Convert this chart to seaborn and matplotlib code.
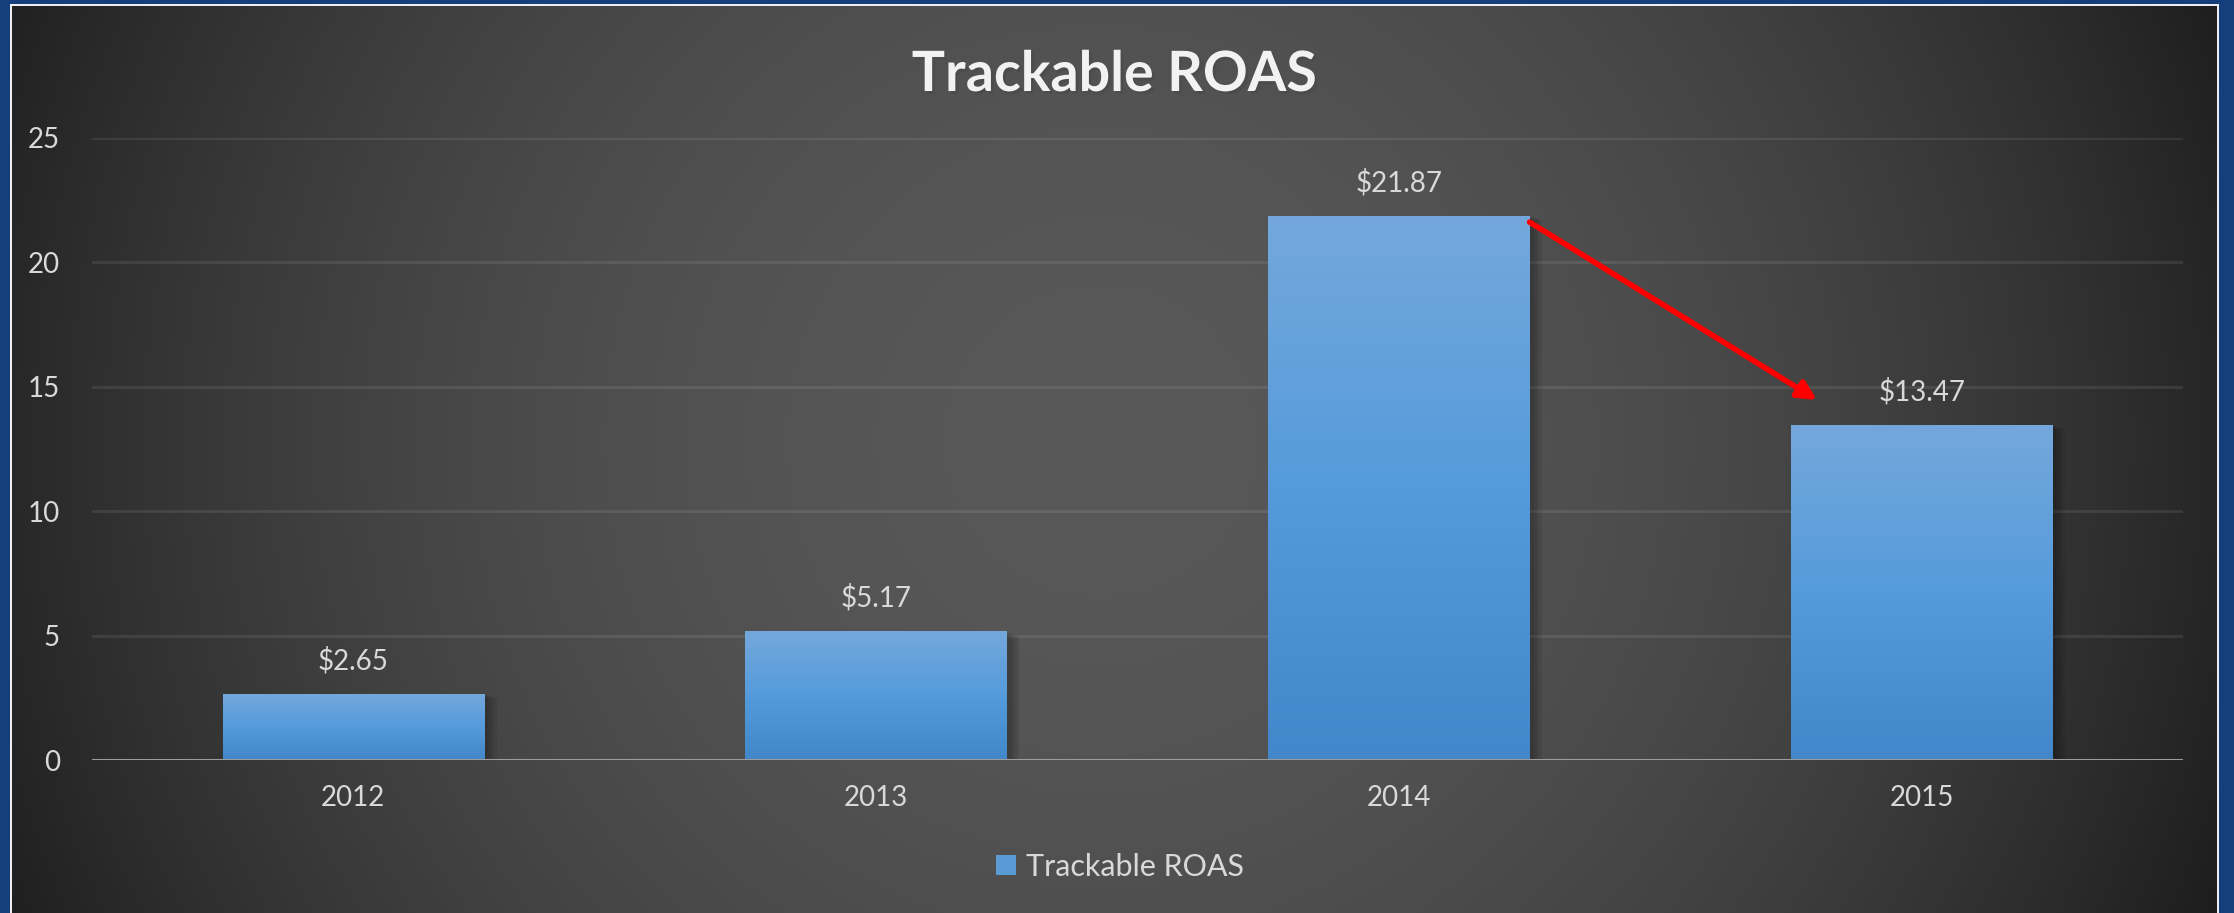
import numpy as np
import pandas as pd
import seaborn as sns
import matplotlib.pyplot as plt
import matplotlib.patheffects as pe
from matplotlib.colors import LinearSegmentedColormap

years = ["2012", "2013", "2014", "2015"]
roas = [2.65, 5.17, 21.87, 13.47]
labels = ["$2.65", "$5.17", "$21.87", "$13.47"]
series_name = "Trackable ROAS"

df = pd.DataFrame({"year": years, "roas": roas})

sns.set_style("dark")
plt.rcParams["font.family"] = ["Lato", "DejaVu Sans"]

W, H = 2234, 913
fig = plt.figure(figsize=(W / 100, H / 100), dpi=100)

# background: blue slide, white frame, radial grey panel
bg = fig.add_axes([0, 0, 1, 1], zorder=-10)
img = np.zeros((H, W, 3))
img[:] = np.array([21, 63, 122]) / 255
yy, xx = np.mgrid[0:H, 0:W]
r = np.hypot(xx - 1100, yy - 440) / 1200
g = (88 - 58 * np.clip(r, 0, 1.1) ** 2) / 255
panel = (xx >= 12) & (xx < 2217) & (yy >= 6)
frame = (xx >= 10) & (xx < 2219) & (yy >= 4) & ~panel
img[frame] = [0.93, 0.93, 0.95]
img[panel] = np.stack([g, g, g], axis=-1)[panel]
bg.imshow(img, aspect="auto", interpolation="bilinear")
bg.axis("off")

ax = fig.add_axes([92 / W, 1 - 760 / H, (2183 - 92) / W, (760 - 138) / H])
ax.set_facecolor("none")

sns.barplot(data=df, x="year", y="roas", color="#5b9bd5", width=0.5, saturation=1,
            label=series_name, ax=ax, zorder=2, linewidth=0, edgecolor="none")

cmap = LinearSegmentedColormap.from_list("bar", ["#4287c9", "#559bdb", "#74a8dc"])
grad = np.linspace(0, 1, 256).reshape(-1, 1)
soft_shadow = [pe.SimplePatchShadow(offset=(k, -k / 3), alpha=0.07, shadow_rgbFace="black")
               for k in (9, 7, 5, 3)]
for p in ax.patches:
    p.set_path_effects(soft_shadow + [pe.Normal()])
    x0, w, h = p.get_x(), p.get_width(), p.get_height()
    im = ax.imshow(grad, extent=[x0, x0 + w, 0, h], origin="lower", aspect="auto",
                   cmap=cmap, zorder=2.5)
    im.set_clip_path(p)

ax.bar_label(ax.containers[0], labels=labels, padding=14, fontsize=20,
             color="#d9d9d9", zorder=6)

ax.set_xlim(-0.5, 3.5)
ax.set_ylim(0, 25)
ax.set_yticks(range(0, 26, 5))
ax.grid(axis="y", color="white", alpha=0.09, lw=2)
ax.grid(axis="x", visible=False)
ax.axhline(0, color="#9c9c9c", lw=2.2, zorder=5)
for s in ax.spines.values():
    s.set_visible(False)
ax.tick_params(axis="y", length=0, pad=23, labelsize=20, labelcolor="#d9d9d9")
ax.tick_params(axis="x", length=0, pad=18, labelsize=20, labelcolor="#d9d9d9")
ax.set_xlabel("")
ax.set_ylabel("")

# red arrow from 2014 bar top to 2015 label
ax.annotate("", xy=(3 - 0.2, roas[3] + 1.0), xytext=(2 + 0.25, roas[2] - 0.25),
            arrowprops=dict(arrowstyle="-|>", color="#ff0000", lw=4,
                            mutation_scale=28, shrinkA=0, shrinkB=0), zorder=7)

fig.text(1114 / W, 1 - 91 / H, "Trackable ROAS", ha="center", va="baseline",
         fontsize=40, fontweight="bold", color="#f2f2f2",
         path_effects=[pe.withSimplePatchShadow(offset=(2, -2), alpha=0.6)])

leg = ax.legend(loc="center", bbox_to_anchor=(1120 / W, 1 - 867 / H),
                bbox_transform=fig.transFigure, frameon=False, fontsize=22,
                labelcolor="#d9d9d9", handlelength=0.65, handleheight=0.65,
                handletextpad=0.35)
for h in leg.legend_handles:
    h.set_path_effects([])
    h.set_edgecolor("none")
    h.set_facecolor("#5b9bd5")

fig.savefig("out.png", dpi=100)
